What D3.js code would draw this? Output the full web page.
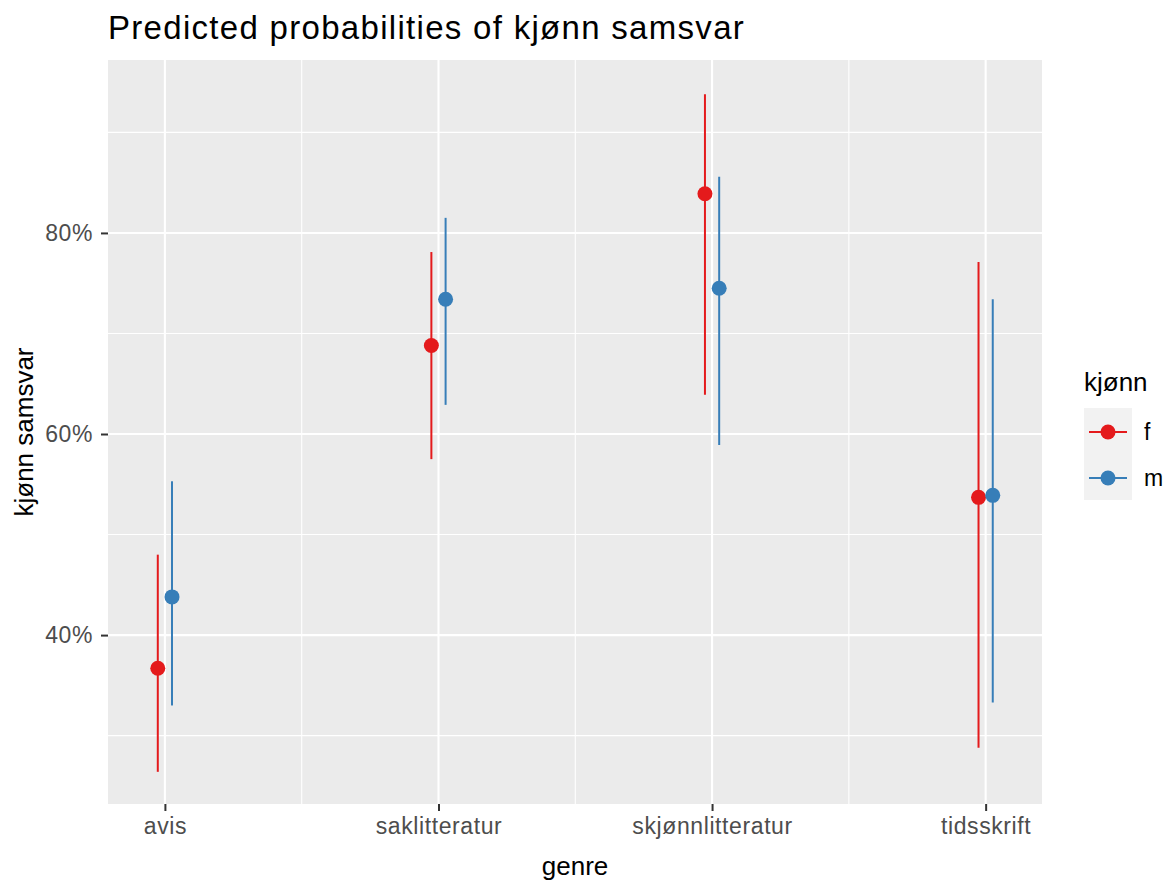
<!DOCTYPE html>
<html>
<head>
<meta charset="utf-8">
<script src="https://cdn.jsdelivr.net/npm/d3@7"></script>
<style>
  body { margin: 0; background: #fff; }
  text { font-family: "Liberation Sans", Arial, sans-serif; }
</style>
</head>
<body>
<div id="chart"></div>
<script>
// categories and groups
var genres = ["avis", "saklitteratur", "skjønnlitteratur", "tidsskrift"];
var groups = ["f", "m"];
var colors = ["#E41A1C", "#377EB8"];

// predicted values (proportions) per group, in genre order
var predF = [0.367, 0.688, 0.839, 0.537];
var lowF  = [0.264, 0.575, 0.639, 0.288];
var highF = [0.480, 0.781, 0.938, 0.771];

var predM = [0.438, 0.734, 0.745, 0.539];
var lowM  = [0.330, 0.629, 0.589, 0.333];
var highM = [0.553, 0.815, 0.856, 0.734];

var yTicks = [0.4, 0.6, 0.8];
var yMinor = [0.3, 0.5, 0.7, 0.9];

var W = 1174, H = 884;
var panel = {left: 108, right: 1042, top: 60, bottom: 804};

var svg = d3.select("#chart").append("svg")
  .attr("width", W).attr("height", H);

// x is a continuous position for the discrete genres (1..4), with dodge
var x = d3.scaleLinear().domain([0.792, 4.206]).range([panel.left, panel.right]);
var y = d3.scaleLinear().domain([0.232, 0.972]).range([panel.bottom, panel.top]);
var dodge = 0.026;

// panel background
svg.append("rect")
  .attr("x", panel.left).attr("y", panel.top)
  .attr("width", panel.right - panel.left).attr("height", panel.bottom - panel.top)
  .attr("fill", "#EBEBEB");

var grid = svg.append("g");
// minor grid
grid.selectAll(".ymin").data(yMinor).enter().append("line")
  .attr("x1", panel.left).attr("x2", panel.right)
  .attr("y1", d => y(d)).attr("y2", d => y(d))
  .attr("stroke", "#fff").attr("stroke-width", 1.1);
grid.selectAll(".xmin").data([1.5, 2.5, 3.5]).enter().append("line")
  .attr("y1", panel.top).attr("y2", panel.bottom)
  .attr("x1", d => x(d)).attr("x2", d => x(d))
  .attr("stroke", "#fff").attr("stroke-width", 1.1);
// major grid
grid.selectAll(".ymaj").data(yTicks).enter().append("line")
  .attr("x1", panel.left).attr("x2", panel.right)
  .attr("y1", d => y(d)).attr("y2", d => y(d))
  .attr("stroke", "#fff").attr("stroke-width", 2.1);
grid.selectAll(".xmaj").data(genres).enter().append("line")
  .attr("y1", panel.top).attr("y2", panel.bottom)
  .attr("x1", (d, i) => x(i + 1)).attr("x2", (d, i) => x(i + 1))
  .attr("stroke", "#fff").attr("stroke-width", 2.1);

// axes
var yAxis = d3.axisLeft(y).tickValues(yTicks)
  .tickFormat(d3.format(".0%")).tickSize(7).tickPadding(8);
var gy = svg.append("g").attr("transform", "translate(" + panel.left + ",0)").call(yAxis);
var xAxis = d3.axisBottom(x).tickValues([1, 2, 3, 4])
  .tickFormat((d) => genres[d - 1]).tickSize(7).tickPadding(7);
var gx = svg.append("g").attr("transform", "translate(0," + panel.bottom + ")").call(xAxis);
[gx, gy].forEach(function(g) {
  g.select(".domain").remove();
  g.selectAll(".tick line").attr("stroke", "#333333").attr("stroke-width", 2);
  g.selectAll(".tick text").attr("fill", "#4D4D4D")
    .style("font-size", "23px").style("letter-spacing", "0.6px")
    .style("font-family", "Liberation Sans, Arial, sans-serif");
});

// series
var series = [
  {name: "f", color: colors[0], pred: predF, low: lowF, high: highF, off: -dodge},
  {name: "m", color: colors[1], pred: predM, low: lowM, high: highM, off: dodge}
];

series.forEach(function(s) {
  var g = svg.append("g");
  g.selectAll("line").data(genres).enter().append("line")
    .attr("x1", (d, i) => x(i + 1 + s.off)).attr("x2", (d, i) => x(i + 1 + s.off))
    .attr("y1", (d, i) => y(s.low[i])).attr("y2", (d, i) => y(s.high[i]))
    .attr("stroke", s.color).attr("stroke-width", 2);
  g.selectAll("circle").data(genres).enter().append("circle")
    .attr("cx", (d, i) => x(i + 1 + s.off))
    .attr("cy", (d, i) => y(s.pred[i]))
    .attr("r", 7.5).attr("fill", s.color);
});

// titles
svg.append("text").attr("x", 108).attr("y", 39)
  .style("font-size", "33px").style("letter-spacing", "1.3px").attr("fill", "#000")
  .text("Predicted probabilities of kjønn samsvar");
svg.append("text").attr("x", (panel.left + panel.right) / 2).attr("y", 875)
  .attr("text-anchor", "middle").style("font-size", "26px")
  .text("genre");
svg.append("text")
  .attr("transform", "translate(33," + ((panel.top + panel.bottom) / 2) + ") rotate(-90)")
  .attr("text-anchor", "middle").style("font-size", "26px")
  .text("kjønn samsvar");

// legend
var leg = svg.append("g");
leg.append("text").attr("x", 1084).attr("y", 391).style("font-size", "26px").text("kjønn");
leg.append("rect").attr("x", 1084).attr("y", 408).attr("width", 48).attr("height", 92)
  .attr("fill", "#F2F2F2");
series.forEach(function(s, i) {
  var cy = 432 + i * 46;
  leg.append("line").attr("x1", 1089).attr("x2", 1127).attr("y1", cy).attr("y2", cy)
    .attr("stroke", s.color).attr("stroke-width", 2);
  leg.append("circle").attr("cx", 1108).attr("cy", cy).attr("r", 7.5).attr("fill", s.color);
  leg.append("text").attr("x", 1144).attr("y", cy + 8).style("font-size", "23px")
    .attr("fill", "#000").text(s.name);
});
</script>
</body>
</html>
